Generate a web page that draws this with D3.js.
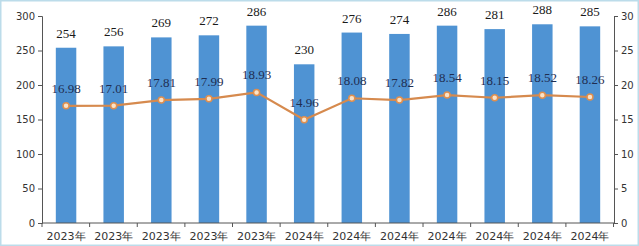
<!DOCTYPE html>
<html>
<head>
<meta charset="utf-8">
<script src="https://cdn.jsdelivr.net/npm/d3@7"></script>
<style>
  body { margin: 0; background: #fff; }
  svg { display: block; }
</style>
</head>
<body>
<div id="chart"></div>
<script>
var categories = ["2023年", "2023年", "2023年", "2023年", "2023年", "2024年",
                  "2024年", "2024年", "2024年", "2024年", "2024年", "2024年"];
var barValues = [254, 256, 269, 272, 286, 230, 276, 274, 286, 281, 288, 285];
var lineValues = [16.98, 17.01, 17.81, 17.99, 18.93, 14.96, 18.08, 17.82, 18.54, 18.15, 18.52, 18.26];
var leftTicks = [0, 50, 100, 150, 200, 250, 300];
var rightTicks = [0, 5, 10, 15, 20, 25, 30];

var W = 639, H = 246;
var margin = {top: 16, right: 25, bottom: 23, left: 42};
var width = W - margin.left - margin.right,
    height = H - margin.top - margin.bottom;

var svg = d3.select("#chart").append("svg")
    .attr("width", W)
    .attr("height", H);

// light frame round the picture
svg.append("rect")
    .attr("x", 0.5).attr("y", 0.5)
    .attr("width", W - 1).attr("height", H - 1)
    .attr("fill", "none")
    .attr("stroke", "#bcdcea")
    .attr("stroke-width", 2);

var g = svg.append("g")
    .attr("transform", "translate(" + margin.left + "," + margin.top + ")");

var x = d3.scaleBand()
    .domain(d3.range(categories.length))
    .range([0, width])
    .paddingInner(0.57)
    .paddingOuter(0.29);
var y = d3.scaleLinear().domain([0, 300]).range([height, 0]);
var y2 = d3.scaleLinear().domain([0, 30]).range([height, 0]);

// bars
g.selectAll(".bar")
    .data(barValues)
    .enter().append("rect")
    .attr("class", "bar")
    .attr("x", function (d, i) { return x(i); })
    .attr("y", function (d) { return y(d); })
    .attr("width", x.bandwidth())
    .attr("height", function (d) { return height - y(d); })
    .attr("fill", "#4f93d3");

g.selectAll(".barlabel")
    .data(barValues)
    .enter().append("text")
    .attr("x", function (d, i) { return x(i) + x.bandwidth() / 2; })
    .attr("y", function (d) { return y(d) - 10; })
    .attr("text-anchor", "middle")
    .attr("font-family", "Liberation Serif, serif")
    .attr("font-size", 13)
    .attr("fill", "#1a1a1a")
    .text(function (d) { return d; });

// line
var line = d3.line()
    .x(function (d, i) { return x(i) + x.bandwidth() / 2; })
    .y(function (d) { return y2(d); });

g.append("path")
    .datum(lineValues)
    .attr("d", line)
    .attr("fill", "none")
    .attr("stroke", "#d68a4e")
    .attr("stroke-width", 2.2);

g.selectAll(".dot")
    .data(lineValues)
    .enter().append("circle")
    .attr("cx", function (d, i) { return x(i) + x.bandwidth() / 2; })
    .attr("cy", function (d) { return y2(d); })
    .attr("r", 3)
    .attr("fill", "#fbe3c8")
    .attr("stroke", "#df8f4f")
    .attr("stroke-width", 1.5);

g.selectAll(".linelabel")
    .data(lineValues)
    .enter().append("text")
    .attr("x", function (d, i) { return x(i) + x.bandwidth() / 2; })
    .attr("y", function (d) { return y2(d) - 13; })
    .attr("text-anchor", "middle")
    .attr("font-family", "Liberation Serif, serif")
    .attr("font-size", 13)
    .attr("fill", "#1f2e52")
    .text(function (d) { return d.toFixed(2); });

// axes
var axisColor = "#555";

var xAxis = g.append("g")
    .attr("transform", "translate(0," + height + ")");
xAxis.append("line")
    .attr("x1", 0).attr("x2", width)
    .attr("stroke", axisColor);
xAxis.selectAll(".tick")
    .data(d3.range(categories.length + 1))
    .enter().append("line")
    .attr("x1", function (d) { return d * x.step(); })
    .attr("x2", function (d) { return d * x.step(); })
    .attr("y1", 0).attr("y2", 4)
    .attr("stroke", axisColor);
xAxis.selectAll(".xlabel")
    .data(categories)
    .enter().append("text")
    .attr("x", function (d, i) { return x(i) + x.bandwidth() / 2; })
    .attr("y", 17)
    .attr("text-anchor", "middle")
    .attr("font-family", "DejaVu Sans, sans-serif")
    .attr("font-size", 11)
    .attr("fill", "#333")
    .text(function (d) { return d; });

var yAxis = g.append("g")
    .call(d3.axisLeft(y).tickValues(leftTicks).tickSize(4).tickPadding(3));
yAxis.select(".domain").attr("stroke", axisColor);
yAxis.selectAll(".tick line").attr("stroke", axisColor);
yAxis.selectAll("text")
    .attr("font-family", "DejaVu Sans, sans-serif")
    .attr("font-size", 10)
    .attr("fill", "#333");

var yAxis2 = g.append("g")
    .attr("transform", "translate(" + width + ",0)")
    .call(d3.axisRight(y2).tickValues(rightTicks).tickSize(4).tickPadding(3));
yAxis2.select(".domain").attr("stroke", axisColor);
yAxis2.selectAll(".tick line").attr("stroke", axisColor);
yAxis2.selectAll("text")
    .attr("font-family", "DejaVu Sans, sans-serif")
    .attr("font-size", 10)
    .attr("fill", "#333");
</script>
</body>
</html>
